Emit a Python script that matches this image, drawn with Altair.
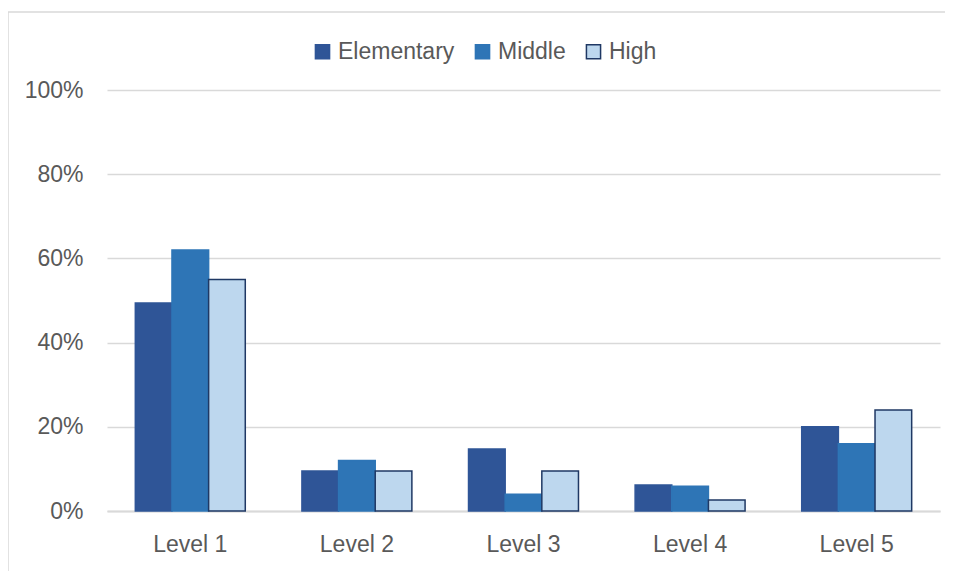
import altair as alt
import pandas as pd

levels = ["Level 1", "Level 2", "Level 3", "Level 4", "Level 5"]
series = ["Elementary", "Middle", "High"]
elementary = [49.4, 9.5, 14.7, 6.2, 20.0]
middle = [62.0, 12.0, 4.0, 5.9, 16.0]
high = [55.0, 9.5, 9.5, 2.6, 24.0]
colors = ["#2F5597", "#2E75B6", "#BDD7EE"]
strokes = ["#2F5597", "#2E75B6", "#1F3864"]

rows = []
for s, vals in zip(series, [elementary, middle, high]):
    for lv, v in zip(levels, vals):
        rows.append({"Level": lv, "School": s, "Pct": v / 100.0})
df = pd.DataFrame(rows)

font = "Liberation Sans"
text_color = "#595959"

bars = alt.Chart(df).mark_bar(strokeWidth=1.5).encode(
    x=alt.X("Level:N", sort=levels, title=None,
            scale=alt.Scale(paddingInner=0.34, paddingOuter=0.17),
            axis=alt.Axis(labelAngle=0, labelFontSize=23, labelColor=text_color,
                          labelFont=font, ticks=False, domainColor="#d9d9d9",
                          domainWidth=2, labelPadding=22, grid=False)),
    xOffset=alt.XOffset("School:N", sort=series),
    y=alt.Y("Pct:Q", title=None,
            scale=alt.Scale(domain=[0, 1]),
            axis=alt.Axis(format=".0%", values=[0, 0.2, 0.4, 0.6, 0.8, 1.0],
                          labelFontSize=23, labelColor=text_color, labelFont=font,
                          ticks=False, domain=False, gridColor="#d9d9d9",
                          gridWidth=1.5, labelPadding=24)),
    color=alt.Color("School:N", sort=series,
                    scale=alt.Scale(domain=series, range=colors),
                    legend=alt.Legend(title=None, orient="none", direction="horizontal",
                                      legendX=204, legendY=-50, symbolType="square",
                                      symbolSize=200, labelFontSize=23,
                                      labelColor=text_color, labelFont=font,
                                      columnPadding=16, labelOffset=4,
                                      symbolStrokeWidth=1.5)),
    stroke=alt.Stroke("School:N", sort=series,
                      scale=alt.Scale(domain=series, range=strokes), legend=None),
)

frame_df = pd.DataFrame({"k": [0]})
frame_left = alt.Chart(frame_df).mark_rule(color="#d9d9d9", strokeWidth=1.5).encode(
    x=alt.value(-99), y=alt.value(-78), y2=alt.value(600))
frame_top = alt.Chart(frame_df).mark_rule(color="#d9d9d9", strokeWidth=1.5).encode(
    x=alt.value(-99), x2=alt.value(950), y=alt.value(-78))

chart = alt.layer(frame_left, frame_top, bars).properties(
    width=833, height=421,
    autosize=alt.AutoSizeParams(type="none"),
    padding={"left": 99, "top": 82, "right": 5, "bottom": 60},
).configure(background="white").configure_view(stroke=None, strokeWidth=0)

chart.save("out.html", embed_options={"renderer": "svg", "actions": False})
